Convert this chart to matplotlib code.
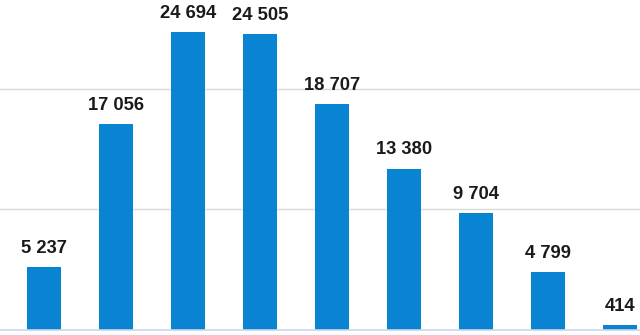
import numpy as np
import matplotlib.pyplot as plt

# bar values, left to right
categories = ["c1", "c2", "c3", "c4", "c5", "c6", "c7", "c8", "c9"]
values = [5237, 17056, 24694, 24505, 18707, 13380, 9704, 4799, 414]

plt.rcParams['font.family'] = ['Liberation Sans', 'DejaVu Sans']

fig = plt.figure(figsize=(6.4, 3.35), dpi=100)
ax = fig.add_axes([0, 0, 1, 1])

x = np.arange(len(values))
bars = ax.bar(x, values, width=0.47, color="#0884d2", zorder=3)

for xi, v in zip(x, values):
    lab = f"{v:,}".replace(",", " ")
    ax.text(xi, v + 850, lab, ha="center", va="bottom",
            fontsize=13.2, fontweight="bold", color="#1a1a1a")

ax.set_xlim(-0.61, 8.28)
ax.set_ylim(-414, 27340)
ax.set_yticks([10000, 20000])
ax.yaxis.grid(True, color="#dadada", linewidth=1.0, zorder=0)
ax.axhline(0, color="#c9d5ea", linewidth=1.2, zorder=4)

for s in ax.spines.values():
    s.set_visible(False)
ax.tick_params(left=False, bottom=False, labelleft=False, labelbottom=False)

fig.savefig("out.png", dpi=100)
